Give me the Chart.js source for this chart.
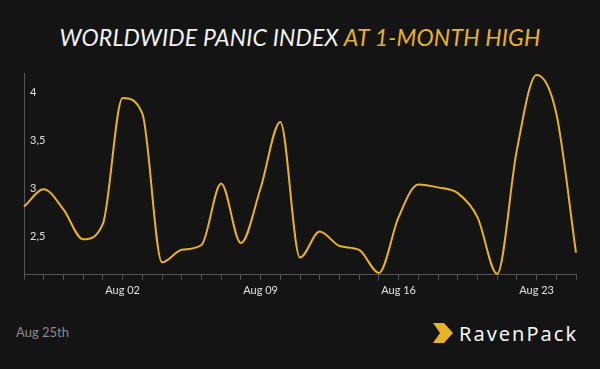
<!DOCTYPE html>
<html>
<head>
<meta charset="utf-8">
<script src="https://cdn.jsdelivr.net/npm/chart.js@4/dist/chart.umd.min.js"></script>
<style>
  html, body { margin: 0; padding: 0; background: #141414; }
  #wrap { position: relative; width: 600px; height: 369px; background: #141414; overflow: hidden; }
  #title {
    position: absolute; left: 0; top: 23px; width: 600px; text-align: center;
    font-family: Lato, "Open Sans", sans-serif; font-style: italic; font-size: 23px;
    color: #f2f2f2; letter-spacing: 0.2px; white-space: nowrap;
  }
  #title span { color: #e8b12a; }
  #chartBox { position: absolute; left: 0; top: 60px; width: 600px; height: 241px; }
  #date { position: absolute; left: 16px; top: 324px; font-family: Lato, sans-serif; font-size: 13px; color: #8c8c8c; }
  #logo { position: absolute; left: 433px; top: 320px; height: 26px; display: flex; align-items: center; }
  #logo svg { margin-right: 6px; }
  #logo .name { font-family: "Noto Sans", sans-serif; font-size: 20px; color: #f4f4f4; letter-spacing: 2px; }
</style>
</head>
<body>
<div id="wrap">
  <div id="title">WORLDWIDE PANIC INDEX <span>AT 1-MONTH HIGH</span></div>
  <div id="chartBox"><canvas id="panicChart"></canvas></div>
  <div id="date">Aug 25th</div>
  <div id="logo">
    <svg width="20" height="20" viewBox="0 0 20 20"><polygon points="0,0 11,0 20,10 11,20 0,20 7,10" fill="#e8b12a"/></svg>
    <span class="name">RavenPack</span>
  </div>
</div>
<script>
// daily panic index, Jul 28 - Aug 25
const days = ['Jul 28', 'Jul 29', 'Jul 30', 'Jul 31', 'Aug 01', 'Aug 02', 'Aug 03', 'Aug 04',
  'Aug 05', 'Aug 06', 'Aug 07', 'Aug 08', 'Aug 09', 'Aug 10', 'Aug 11', 'Aug 12', 'Aug 13',
  'Aug 14', 'Aug 15', 'Aug 16', 'Aug 17', 'Aug 18', 'Aug 19', 'Aug 20', 'Aug 21', 'Aug 22',
  'Aug 23', 'Aug 24', 'Aug 25'];
const panicIndex = [2.81, 2.99, 2.78, 2.47, 2.63, 3.94, 3.78, 2.23,
  2.36, 2.41, 3.05, 2.43, 3.0, 3.69, 2.28, 2.55, 2.40,
  2.36, 2.12, 2.70, 3.04, 3.01, 2.95, 2.70, 2.11, 3.40,
  4.18, 3.78, 2.33];
const labeledDays = ['Aug 02', 'Aug 09', 'Aug 16', 'Aug 23'];

const gold = '#e8b12a';
const axisColor = '#555555';

new Chart(document.getElementById('panicChart'), {
  type: 'line',
  data: {
    labels: days,
    datasets: [{
      data: panicIndex,
      borderColor: gold,
      borderWidth: 2,
      pointRadius: 0,
      fill: false,
      cubicInterpolationMode: 'monotone'
    }]
  },
  options: {
    responsive: true,
    maintainAspectRatio: false,
    animation: false,
    layout: { padding: { left: 12, right: 24, top: 13, bottom: 0 } },
    plugins: { legend: { display: false }, tooltip: { enabled: false } },
    scales: {
      x: {
        offset: false,
        grid: { drawOnChartArea: false, drawTicks: true, tickLength: 5, color: axisColor },
        border: { color: axisColor, width: 1 },
        ticks: {
          autoSkip: false, maxRotation: 0, color: '#e0e0e0', padding: 4,
          font: { family: 'Lato', size: 11 },
          callback: function (v, i) {
            const d = days[i];
            return labeledDays.includes(d) ? d : '';
          }
        }
      },
      y: {
        min: 2.1,
        max: 4.2,
        grid: { drawOnChartArea: false, drawTicks: false },
        border: { color: axisColor, width: 1 },
        ticks: {
          stepSize: 0.5, includeBounds: false, mirror: true, padding: 6,
          color: '#e0e0e0', font: { family: 'Lato', size: 11 },
          callback: function (v) { return String(v).replace('.', ','); }
        }
      }
    }
  }
});
</script>
</body>
</html>
